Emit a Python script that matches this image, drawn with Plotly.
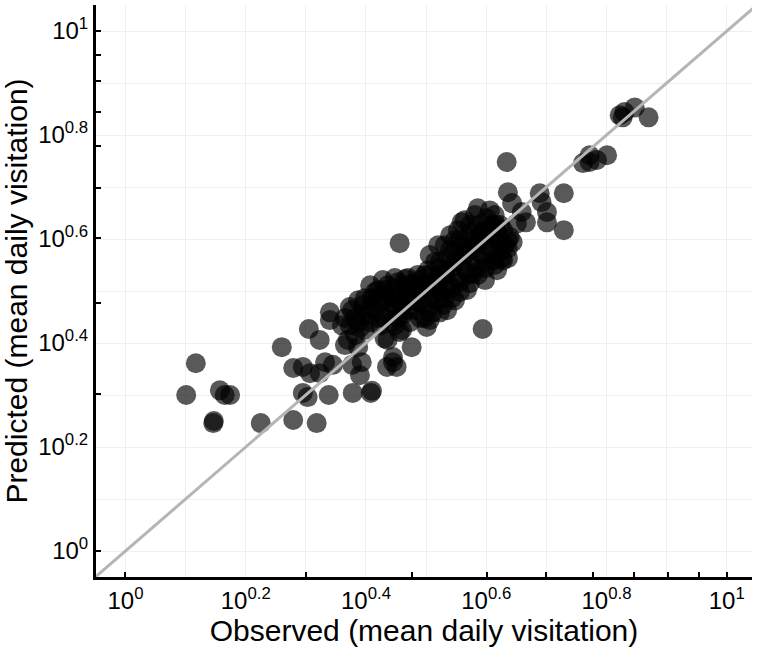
import plotly.graph_objects as go

# log10 of observed / predicted mean daily visitation
obs_log10 = [
    0.101, 0.117, 0.146, 0.147, 0.157, 0.165, 0.174, 0.225, 0.260, 0.279,
    0.318, 0.279, 0.295, 0.307, 0.323, 0.332, 0.345, 0.295, 0.303, 0.338,
    0.378, 0.408, 0.410, 0.305, 0.323, 0.340, 0.340, 0.360, 0.373, 0.387,
    0.365, 0.387, 0.377, 0.393, 0.390, 0.435, 0.451, 0.445, 0.476, 0.445,
    0.436, 0.460, 0.501, 0.456, 0.594, 0.634, 0.636, 0.643, 0.659, 0.666,
    0.689, 0.692, 0.701, 0.701, 0.729, 0.729, 0.651, 0.644, 0.626, 0.761,
    0.772, 0.784, 0.801, 0.772, 0.822, 0.827, 0.830, 0.847, 0.870,
    # dense core
    0.365, 0.377, 0.387, 0.395, 0.403, 0.410, 0.415, 0.420, 0.426, 0.431,
    0.436, 0.443, 0.448, 0.453, 0.456, 0.461, 0.466, 0.473, 0.478, 0.483,
    0.490, 0.495, 0.500, 0.506, 0.511, 0.516, 0.523, 0.528, 0.533, 0.540,
    0.543, 0.548, 0.553, 0.556, 0.561, 0.566, 0.573, 0.576, 0.581, 0.586,
    0.589, 0.594, 0.599, 0.603, 0.606, 0.611, 0.616, 0.619, 0.623, 0.628,
    0.631, 0.573, 0.586, 0.556, 0.540, 0.523, 0.503, 0.486, 0.470, 0.398,
    0.382, 0.370, 0.407, 0.428, 0.448, 0.465, 0.423, 0.443, 0.460, 0.481,
    0.498, 0.518, 0.531, 0.548, 0.568, 0.598, 0.618, 0.636, 0.639, 0.601,
    0.581, 0.614, 0.559, 0.540, 0.520, 0.506, 0.456, 0.431, 0.506, 0.535,
    0.578, 0.628, 0.636, 0.586, 0.606, 0.564, 0.548,
    0.382, 0.393, 0.407, 0.418, 0.431, 0.443, 0.456, 0.470, 0.481, 0.493,
    0.506, 0.520, 0.531, 0.543, 0.553, 0.564, 0.576, 0.586, 0.598, 0.609,
    0.619, 0.598, 0.609, 0.589,
    0.398, 0.415, 0.431, 0.448, 0.465, 0.490, 0.506, 0.523, 0.536, 0.548,
    0.559, 0.569, 0.581, 0.593, 0.606, 0.623, 0.573, 0.553, 0.531, 0.515,
    0.498,
    0.373, 0.390, 0.407, 0.420, 0.436, 0.453, 0.470, 0.486, 0.503, 0.515,
    0.531, 0.543, 0.556, 0.569, 0.583, 0.596, 0.609, 0.623, 0.636, 0.614,
    0.523, 0.490, 0.473, 0.448,
]
pred_log10 = [
    0.300, 0.361, 0.246, 0.250, 0.309, 0.300, 0.300, 0.246, 0.392, 0.252,
    0.246, 0.352, 0.354, 0.342, 0.342, 0.363, 0.358, 0.304, 0.296, 0.300,
    0.304, 0.304, 0.308, 0.427, 0.406, 0.459, 0.444, 0.434, 0.469, 0.482,
    0.396, 0.392, 0.358, 0.363, 0.338, 0.354, 0.354, 0.363, 0.392, 0.373,
    0.406, 0.425, 0.431, 0.592, 0.427, 0.748, 0.690, 0.669, 0.652, 0.632,
    0.688, 0.671, 0.652, 0.632, 0.688, 0.617, 0.630, 0.594, 0.563, 0.746,
    0.761, 0.752, 0.761, 0.748, 0.838, 0.834, 0.844, 0.853, 0.834,
    # dense core
    0.448, 0.463, 0.440, 0.473, 0.454, 0.486, 0.463, 0.502, 0.479, 0.448,
    0.511, 0.490, 0.467, 0.517, 0.492, 0.454, 0.506, 0.482, 0.515, 0.463,
    0.498, 0.473, 0.511, 0.486, 0.459, 0.521, 0.498, 0.473, 0.540, 0.511,
    0.486, 0.556, 0.525, 0.498, 0.569, 0.540, 0.515, 0.582, 0.556, 0.531,
    0.598, 0.569, 0.544, 0.613, 0.584, 0.559, 0.627, 0.598, 0.575, 0.617,
    0.588, 0.613, 0.627, 0.598, 0.579, 0.556, 0.540, 0.531, 0.525, 0.425,
    0.415, 0.406, 0.511, 0.521, 0.525, 0.523, 0.434, 0.440, 0.473, 0.492,
    0.448, 0.482, 0.502, 0.482, 0.502, 0.521, 0.540, 0.563, 0.604, 0.640,
    0.646, 0.646, 0.632, 0.607, 0.588, 0.569, 0.421, 0.409, 0.444, 0.463,
    0.534, 0.559, 0.598, 0.659, 0.655, 0.636, 0.598,
    0.448, 0.454, 0.467, 0.482, 0.486, 0.477, 0.482, 0.498, 0.511, 0.511,
    0.506, 0.521, 0.531, 0.544, 0.556, 0.569, 0.579, 0.588, 0.598, 0.607,
    0.613, 0.617, 0.627, 0.607,
    0.486, 0.498, 0.502, 0.506, 0.511, 0.521, 0.531, 0.544, 0.563, 0.579,
    0.588, 0.602, 0.598, 0.613, 0.621, 0.627, 0.627, 0.617, 0.588, 0.556,
    0.531,
    0.434, 0.429, 0.440, 0.448, 0.459, 0.448, 0.463, 0.479, 0.467, 0.498,
    0.486, 0.506, 0.517, 0.531, 0.544, 0.556, 0.575, 0.588, 0.582, 0.550,
    0.459, 0.448, 0.440, 0.434,
]

tick_exponents = [0, 0.2, 0.4, 0.6, 0.8, 1]
tick_labels = ["10<sup>0</sup>", "10<sup>0.2</sup>", "10<sup>0.4</sup>",
               "10<sup>0.6</sup>", "10<sup>0.8</sup>", "10<sup>1</sup>"]
grid_exponents = [i / 10 for i in range(11)]
minor_ticks = [1, 2, 3, 4, 5, 6, 7, 8, 9, 10]

observed = [10 ** v for v in obs_log10]
predicted = [10 ** v for v in pred_log10]

grid_vals = [10 ** e for e in grid_exponents]
grid_text = []
for e in grid_exponents:
    lab = ""
    for te, tl in zip(tick_exponents, tick_labels):
        if abs(te - e) < 1e-9:
            lab = tl
    grid_text.append(lab)

fig = go.Figure()
fig.add_trace(go.Scatter(
    x=observed, y=predicted, mode="markers",
    marker=dict(size=20, color="black", opacity=0.65, line=dict(width=0)),
    showlegend=False))
fig.add_trace(go.Scatter(
    x=[10 ** -0.06, 10 ** 1.06], y=[10 ** -0.06, 10 ** 1.06],
    mode="lines", line=dict(color="#b5b5b5", width=3),
    showlegend=False, hoverinfo="skip"))

font_family = "Liberation Sans, Arial, Helvetica, sans-serif"
axis_common = dict(
    type="log",
    tickmode="array", tickvals=grid_vals, ticktext=grid_text,
    ticks="", showgrid=True, gridcolor="#efefef", gridwidth=1,
    showline=True, linecolor="black", linewidth=3, mirror=False,
    zeroline=False,
    tickfont=dict(family=font_family, size=24, color="black"),
    minor=dict(tickmode="array", tickvals=minor_ticks, ticks="inside",
               ticklen=5, tickwidth=2, tickcolor="black", showgrid=False),
)

fig.update_layout(
    width=757, height=649,
    margin=dict(l=96, r=5, t=5, b=72),
    paper_bgcolor="white", plot_bgcolor="white",
    font=dict(family=font_family, color="black"),
    xaxis=dict(axis_common, range=[-0.049, 1.042],
               title=dict(text="Observed (mean daily visitation)",
                          font=dict(size=30, family=font_family), standoff=0)),
    yaxis=dict(axis_common, range=[-0.05, 1.05],
               title=dict(text="Predicted (mean daily visitation)",
                          font=dict(size=30, family=font_family), standoff=2)),
)

fig.write_html("out.html")
